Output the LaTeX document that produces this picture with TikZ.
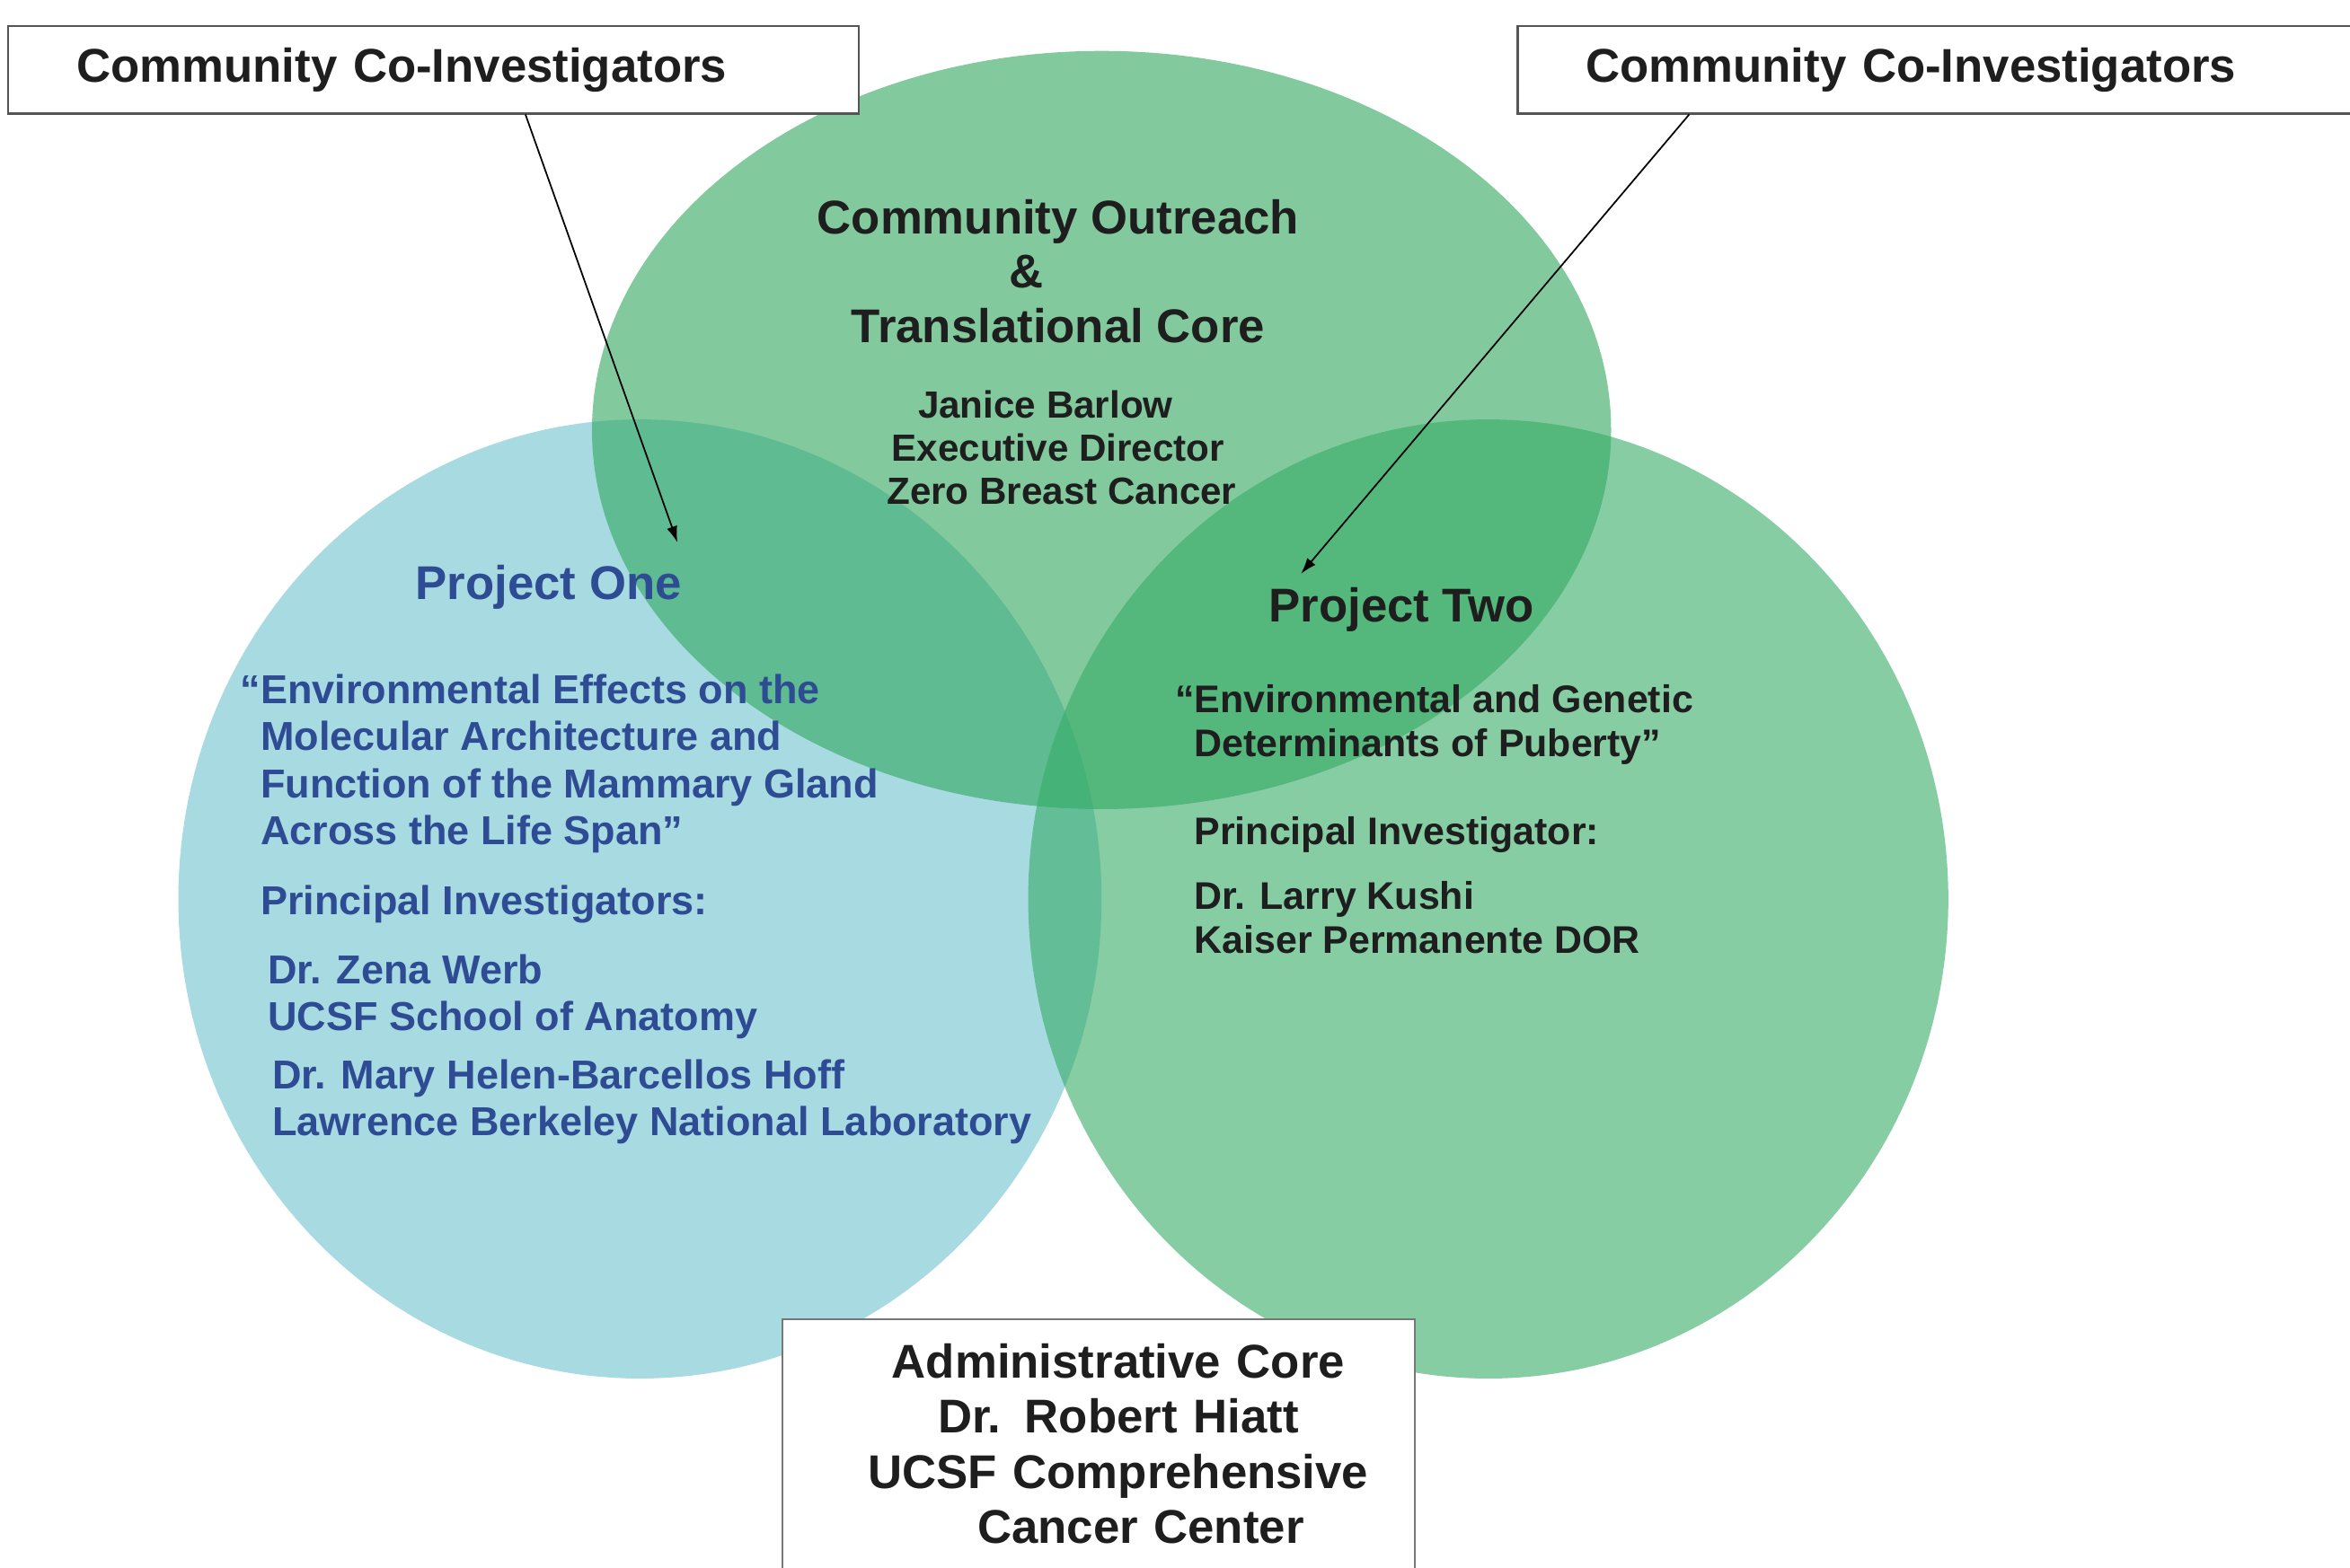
\documentclass[tikz,border=0pt]{standalone}
\usepackage{fontspec}
\setmainfont{Liberation Sans}
\usepackage{tikz}
\usetikzlibrary{arrows.meta, positioning, calc}
\definecolor{projblue}{HTML}{A8DAE2}
\definecolor{coregreen}{HTML}{2FA75C}
\definecolor{projgreen}{HTML}{35AC67}
\definecolor{navytext}{HTML}{2E4C94}
\definecolor{darktext}{HTML}{1E1E1E}
\definecolor{boxline}{HTML}{555555}
\tikzset{
    cobox/.style={rectangle, draw=boxline, fill=white, line width=0.6pt, inner xsep=7.6mm, inner ysep=0pt, minimum height=9.7mm, align=left, text=darktext, font=\fontsize{15}{17}\selectfont\bfseries},
    adminbox/.style={rectangle, draw=boxline!80, fill=white, line width=0.5pt, text width=66mm, inner xsep=2.2mm, inner ysep=2.7mm, align=center, text=darktext, font=\fontsize{15}{17.5}\selectfont\bfseries},
    heading/.style={inner sep=0pt, outer sep=0pt, align=center, font=\fontsize{15}{17.3}\selectfont\bfseries},
    detail/.style={inner sep=0pt, outer sep=0pt, align=left, font=\fontsize{12.8}{14.9}\selectfont\bfseries},
    pointer/.style={-{Latex[length=1.8mm, width=1.2mm]}, line width=0.5pt, color=black}
}

\begin{document}
\begin{tikzpicture}[x=0.1668mm, y=-0.1668mm]
    \useasboundingbox (0,0) rectangle (1568,1046);

    \fill[projblue] (427,600) ellipse [x radius=51.37mm, y radius=53.38mm];
    \fill[coregreen, fill opacity=0.6] (735,287) ellipse [x radius=56.71mm, y radius=42.2mm];
    \fill[projgreen, fill opacity=0.6] (993,600) ellipse [x radius=51.2mm, y radius=53.38mm];

    \node[cobox, text width=79.4mm, anchor=north west] (coleft) at (5,17) {Community Co-Investigators};
    \node[cobox, text width=83mm, anchor=north west] (coright) at (1012,17) {Community Co-Investigators};
    \node[adminbox, anchor=north] (admin) at (733,880)
        {\hspace*{4.4mm}Administrative Core\\
         \hspace*{4.4mm}Dr. Robert Hiatt\\
         \hspace*{4.4mm}UCSF Comprehensive\\
         \hspace*{9.4mm}Cancer Center\\[4mm]\mbox{}};

    \node[heading, text=darktext, anchor=north] (coretitle) at (706,133) {Community Outreach\\\&\hspace*{7mm}\mbox{}\\Translational Core};
    \node[heading, text=darktext, font=\fontsize{12}{13.7}\selectfont\bfseries, below=5.25mm of coretitle] (coredir) {Janice Barlow\hspace*{2.8mm}\mbox{}\\Executive Director\\\mbox{}\hspace*{0.8mm}Zero Breast Cancer};

    \node[heading, text=navytext, anchor=north] (projonetitle) at (366,377) {Project One};
    \node[detail, text=navytext, anchor=north west] (projonetext) at (174,450)
        {\llap{“}Environmental Effects on the\\
         Molecular Architecture and\\
         Function of the Mammary Gland\\
         Across the Life Span”\\[2.6mm]
         Principal Investigators:\\[2.4mm]
         \hspace*{0.8mm}Dr. Zena Werb\\
         \hspace*{0.8mm}UCSF School of Anatomy\\[1.25mm]
         \hspace*{1.3mm}Dr. Mary Helen-Barcellos Hoff\\
         \hspace*{1.3mm}Lawrence Berkeley National Laboratory};

    \node[heading, text=darktext, anchor=north] (projtwotitle) at (935,392) {Project Two};
    \node[detail, text=darktext, font=\fontsize{12.2}{14}\selectfont\bfseries, anchor=north west] (projtwotext) at (797,457)
        {\llap{“}Environmental and Genetic\\
         Determinants of Puberty”\\[4.9mm]
         Principal Investigator:\\[2.25mm]
         Dr. Larry Kushi\\
         Kaiser Permanente DOR};

    \coordinate (onetip) at (452,362);
    \coordinate (twotip) at (868,383);
    \draw[pointer] ($(coleft.south west)!0.608!(coleft.south east)$) -- (onetip);
    \draw[pointer] ($(coright.south west)!0.195!(coright.south east)$) -- (twotip);
\end{tikzpicture}
\end{document}
